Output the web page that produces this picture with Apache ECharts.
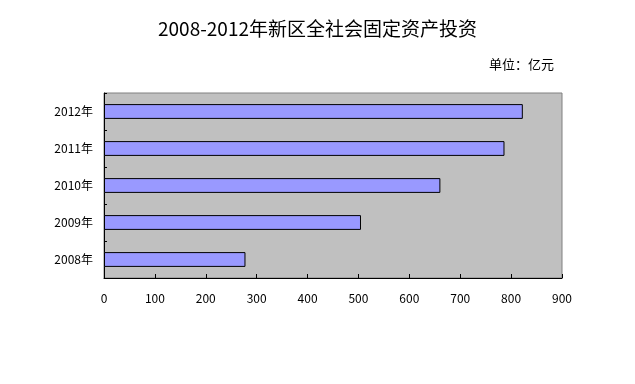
<!DOCTYPE html>
<html><head><meta charset="utf-8">
<script src="https://cdn.jsdelivr.net/npm/echarts@6/dist/echarts.min.js"></script>
<style>html,body{margin:0;padding:0;background:#fff}#c{width:635px;height:384px}</style>
</head><body><div id="c"></div>
<script>
const categories = ['2008年','2009年','2010年','2011年','2012年'];
const values = [278, 505, 661, 787, 823];
const xTicks = [0,100,200,300,400,500,600,700,800,900];
const titleText = '2008-2012年新区全社会固定资产投资';
const unitText = '单位：亿元';

const font = '"Noto Sans CJK SC", sans-serif';
const chart = echarts.init(document.getElementById('c'));
chart.setOption({
  animation: false,
  backgroundColor: '#fff',
  title: [{
    text: titleText, left: 'center', top: 14,
    textStyle: {fontFamily: font, fontSize: 19, fontWeight: 'normal', color: '#000'}
  },{
    text: unitText, right: 76, top: 53,
    textStyle: {fontFamily: font, fontSize: 13, fontWeight: 'normal', color: '#000'}
  }],
  grid: {left: 104, top: 93, right: 73, bottom: 106, show: true,
    backgroundColor: '#C0C0C0', borderColor: '#808080', borderWidth: 1},
  xAxis: {
    type: 'value', min: 0, max: 900, interval: 100,
    axisLine: {show: true, lineStyle: {color: '#000', width: 1}},
    axisTick: {show: true, inside: true, length: 4, lineStyle: {color: '#000'}},
    splitLine: {show: false},
    axisLabel: {margin: 14, fontFamily: font, fontSize: 12, color: '#000',
      formatter: v => xTicks.includes(v) ? String(v) : ''}
  },
  yAxis: {
    type: 'category', data: categories,
    axisLine: {show: true, lineStyle: {color: '#000', width: 1}},
    axisTick: {show: true, inside: true, length: 3, lineStyle: {color: '#000'}},
    axisLabel: {margin: 11, fontFamily: font, fontSize: 12, color: '#000'}
  },
  series: [{
    type: 'bar', data: values, barCategoryGap: '60%',
    itemStyle: {color: '#9999FF', borderColor: '#000', borderWidth: 1}
  }]
});
</script></body></html>
